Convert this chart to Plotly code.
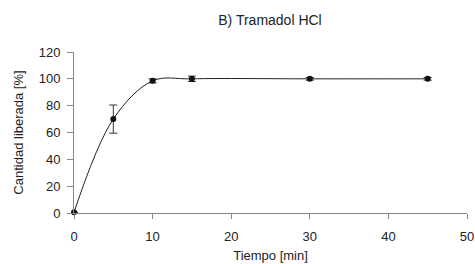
import plotly.graph_objects as go

tiempo = [0, 5, 10, 15, 30, 45]
cantidad = [0.5, 70, 98.5, 100, 100, 100]
error = [0, 10.5, 1.5, 2, 1, 1]

x_ticks = [0, 10, 20, 30, 40, 50]
y_ticks = [0, 20, 40, 60, 80, 100, 120]

fig = go.Figure()
fig.add_trace(go.Scatter(
    x=tiempo, y=cantidad,
    mode="lines+markers",
    line=dict(color="#222222", width=1, shape="spline", smoothing=1.0),
    marker=dict(color="#111111", size=6, symbol="circle"),
    error_y=dict(type="data", array=error, visible=True, color="#333333", thickness=1, width=4),
    showlegend=False,
    cliponaxis=False,
))

font = "Liberation Sans, Arial, sans-serif"
fig.update_layout(
    width=475, height=264,
    margin=dict(l=74, r=8, t=52, b=51),
    paper_bgcolor="white", plot_bgcolor="white",
    font=dict(family=font, size=13, color="#222222"),
    title=dict(text="B) Tramadol HCl", x=270 / 475, xanchor="center", y=1 - 20 / 264, yanchor="middle",
               font=dict(family=font, size=14, color="#222222")),
    xaxis=dict(range=[0, 50], tickvals=x_ticks, showgrid=False, zeroline=False,
               showline=True, linecolor="#888888", linewidth=1,
               ticks="outside", ticklen=5, tickcolor="#888888",
               ticklabelstandoff=6,
               automargin=False,
               title=dict(text="Tiempo [min]", standoff=8, font=dict(size=13))),
    yaxis=dict(range=[0, 120], tickvals=y_ticks, showgrid=False, zeroline=False,
               showline=True, linecolor="#888888", linewidth=1,
               ticks="outside", ticklen=6, tickcolor="#888888",
               ticklabelstandoff=4,
               automargin=False,
               title=dict(text="Cantidad liberada [%]", standoff=12, font=dict(size=13))),
)

fig.write_html(
    "out.html",
    config={"displayModeBar": False, "staticPlot": True},
    post_script="document.body.style.margin='0';document.body.style.overflow='hidden';",
)
